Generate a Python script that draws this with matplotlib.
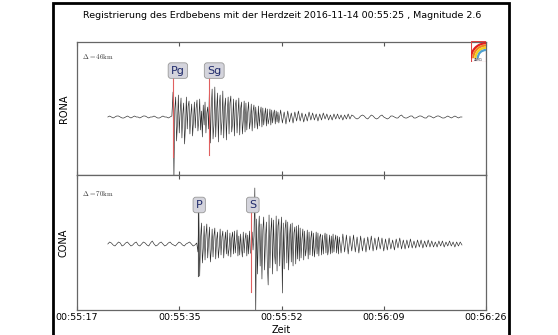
import numpy as np
import matplotlib
matplotlib.use("Agg")
import matplotlib.pyplot as plt
from matplotlib.patches import Rectangle, Arc
import matplotlib.transforms as mtransforms

plt.rcParams['font.family'] = ['DejaVu Sans']
plt.rcParams['mathtext.fontset'] = 'cm'

# ---------------- data ----------------
title = "Registrierung des Erdbebens mit der Herdzeit 2016-11-14 00:55:25 , Magnitude 2.6"
tick_seconds = [0.0, 17.25, 34.5, 51.75, 69.0]
tick_labels = ["00:55:17", "00:55:35", "00:55:52", "00:56:09", "00:56:26"]
stations = ["RONA", "CONA"]
distances = [r"$\Delta=46\mathrm{km}$", r"$\Delta=70\mathrm{km}$"]

# RONA trace, three segments (start second after 00:55:17, sample step)
rona_starts = [5.2, 16.2, 34.35]
rona_steps = [0.3, 0.15, 0.3]
rona_pre = [0, 1, 0, -1, 0, 1, 1, 0, -1, -1, 0, 1, 0, -1, 0, 1, 0, 0, -1, 0,
            1, 1, 0, -1, 0, 0, 1, 0, -1, -1, 0, 1, 0, 0, -1, 0, 1]
rona_strong = [25, -62, 8, 20, -24, -6, 22, -16, 5, 19,
               -21, 3, 14, -27, -9, 20, -12, 11, 16, -17,
               2, 13, -19, -4, 15, -11, 9, 17, -14, -3,
               18, -13, 6, -20, 12, -8, 15, -16, 4, 10,
               -12,
               32, -26, 10, 28, -22, -8, 30, -20, 6, 24,
               -25, 12, 22, -18, -5, 26, -21, 9, 19, -23,
               4, 20, -17, 14, 21, -15, -6, 18, -19, 11,
               17, -16, 3, 19, -18, 8, 15, -17, -4, 16,
               -15, 14, -13, 5, 15, -12, -4, 13, -14, 6,
               12, -11, 10, -3, -12, 11, -9, 4, 10, -10,
               9, -8, 2, 9, -9, 8, -7, -2, 8, -8,
               7, -6, 3, 7, -7, 6, -5, 5, -6]
rona_coda = [7, -6, 5, -7, 6, -5, 4, -6, 5, -4, 6, -4, 4, -5, 3, -4, 5, -3, 4, -3,
             3, -4, 3, -3, 4, -2, 3, -3, 2, -3, 3, -2, 3, -2, 2, -3, 2, -2, 3, -2,
             2, 1, -1, -2, -1, 1, 2, 1, -1, -2, 0, 2, 1, -1, -2, -1, 1, 2, 0, -1,
             -2, -1, 1, 1, 0, -1, -1, 1, 2, 0, -1, -1, 0, 1, 1, -1, -1, 0, 1, 1,
             0, -1, -1, 1, 1, 0, -1, 0, 1, 1, 0, -1, -1, 0, 1, 0, -1, 0, 1, 0,
             -1, 0, 0]

# CONA trace
cona_starts = [5.2, 20.4, 44.55]
cona_steps = [0.3, 0.15, 0.3]
cona_pre = [0, 2, 1, -1, -2, 0, 2, 1, -2, -1, 1, 2, 0, -2, -1, 1, 2, -1, -2, 0,
            2, 1, -1, -2, 1, 3, 0, -2, -1, 1, 2, 0, -2, -1, 1, 2, 0, -1, -2, 0,
            2, 1, -1, -2, 0, 1, 2, 0, -2, -1, 1]
cona_strong = [-8, 32, -32, 6, 21, -19, -5, 18, -16, 9,
               20, -14, 3, 17, -18, -6, 15, -13, 8, 16,
               -15, 4, 12, -14, -3, 15, -11, 7, 13, -14,
               2, 12, -10, 14, -12, -5, 11, -13, 6, 12,
               -10, 13, -9, 3, 14, -12, 8, -11, 10, -4,
               -13, 12, -9, 5, 11, -12, 9, -10, 13, -8,
               -10, 12, -6, 8, 56, -70, 25, -30, 10, 28,
               -22, 20, -35, 14, 27, -26, 6, 22, -18, -41,
               29, -24, 12, 26, -30, 24, -8, -20, 28, -27,
               18, 25, -22, 9, 27, -49, 21, -25, 15, 24,
               -19, 22, -26, 7, 20, -18, 21, -22, 11, 17,
               -20, 18, -15, 19,
               -17, 16, -14, 5, 15, -16, 13, -12, -4, 14,
               -15, 12, -11, 6, 13, -12, 11, -13, -3, 12,
               -10, 11, -12, 7, 10, -11, 9, -10, 4, 11,
               -9, 10, -11, -5, 9, -10, 8, -9, 10, -8,
               3, 9, -9, 8, -10, 7]
cona_coda = [-9, 10, -8, 9, -10, 8, -7, 9, -8, 7, -9, 8, -7, 6, -8, 7, -6, 8, -7, 6,
             -6, 7, -5, 6, -7, 5, -6, 6, -5, 4, -6, 5, -4, 6, -5, 4, -5, 4, -4, 5,
             -4, 3, -4, 4, -3, 4, -4, 3, -3, 4, -3, 3, -3, 2, -3, 3, -2, 3, -3, 2,
             -2, 3, -2, 2, -3, 2, -2, 2, -1]

rona_pick_names = ["Pg", "Sg"]
rona_pick_times = [16.2, 22.3]
cona_pick_names = ["P", "S"]
cona_pick_times = [20.4, 29.4]


def build(starts, steps, segments):
    ts, vs = [], []
    for t0, dt, seg in zip(starts, steps, segments):
        ts.append(t0 + dt * np.arange(len(seg)))
        vs.append(np.asarray(seg, dtype=float))
    return np.concatenate(ts), np.concatenate(vs)


# ---------------- figure ----------------
fig = plt.figure(figsize=(5.58, 3.35), dpi=100)

fig.patches.append(Rectangle((53 / 558, -0.2), (509 - 53) / 558, 1.2 - 3 / 335,
                             transform=fig.transFigure, fill=False,
                             edgecolor='black', linewidth=2, clip_on=False))

fig.text(282 / 558, 1 - 16 / 335, title, ha='center', va='center', fontsize=6.8)

ax1 = fig.add_axes([77 / 558, 1 - 175 / 335, 409 / 558, 133 / 335])
ax2 = fig.add_axes([77 / 558, 1 - 310 / 335, 409 / 558, 135 / 335])

traces = [build(rona_starts, rona_steps, [rona_pre, rona_strong, rona_coda]),
          build(cona_starts, cona_steps, [cona_pre, cona_strong, cona_coda])]
ylims = [(-58, 75), (-66, 69)]
picks = [(rona_pick_names, rona_pick_times), (cona_pick_names, cona_pick_times)]
line_specs = [[('#e06060', 0.75, 0.135, 3), ('#e06060', 0.75, 0.15, 3)],
              [('#555555', 0.726, 0.25, 1), ('#e06060', 0.726, 0.133, 3)]]
box_y = [0.785, 0.778]
delta_y = [0.89, 0.86]

for i, ax in enumerate([ax1, ax2]):
    t, tr = traces[i]
    names, times = picks[i]
    trans = mtransforms.blended_transform_factory(ax.transData, ax.transAxes)
    for (col, y0, y1, z), pt in zip(line_specs[i], times):
        ax.plot([pt, pt], [y0, y1], transform=trans, color=col, lw=0.8, zorder=z)
    ax.plot(t, tr, color='#2a2a2a', lw=0.45, zorder=2)
    for nm, pt in zip(names, times):
        ax.text(pt - 0.35, box_y[i], nm, transform=trans, ha='left', va='center',
                fontsize=8, color='#1f2a6b', zorder=4,
                bbox=dict(boxstyle='round,pad=0.25', facecolor='#d4d4dc',
                          edgecolor='#999999', linewidth=0.6))
    ax.text(0.012, delta_y[i], distances[i], transform=ax.transAxes, fontsize=5,
            ha='left', va='center', color='#333333')
    ax.set_xlim(0, 69)
    ax.set_ylim(*ylims[i])
    ax.set_yticks([])
    ax.set_xticks(tick_seconds)
    ax.tick_params(axis='x', direction='in', top=True, bottom=True, length=3,
                   color='#555555', labelsize=6.8, pad=2.5)
    for s in ax.spines.values():
        s.set_color('#666666')
        s.set_linewidth(0.9)
    ax.set_ylabel(stations[i], fontsize=7, labelpad=6)

ax1.set_xticklabels([])
ax2.set_xticklabels(tick_labels)
ax2.set_xlabel("Zeit", fontsize=7, labelpad=1.5)

# small ZAMG logo in the corner
lax = fig.add_axes([471 / 558, 1 - 62 / 335, 15 / 558, 21 / 335])
lax.set_xlim(0, 1)
lax.set_ylim(0, 1.4)
lax.axis('off')
lax.add_patch(Rectangle((0.02, 0.02), 0.96, 1.36, fill=False, edgecolor='#d44', lw=0.8))
for r, c in zip([1.0, 0.85, 0.7, 0.55], ['#e02020', '#f08020', '#f0d020', '#50a0d0']):
    lax.add_patch(Arc((1.0, 0.25), 2 * r, 2 * r, theta1=90, theta2=180, color=c, lw=1.6))
lax.text(0.5, 0.12, "ZAMG", fontsize=2.2, ha='center', va='center', color='#223')

fig.savefig("out.png", dpi=100)
